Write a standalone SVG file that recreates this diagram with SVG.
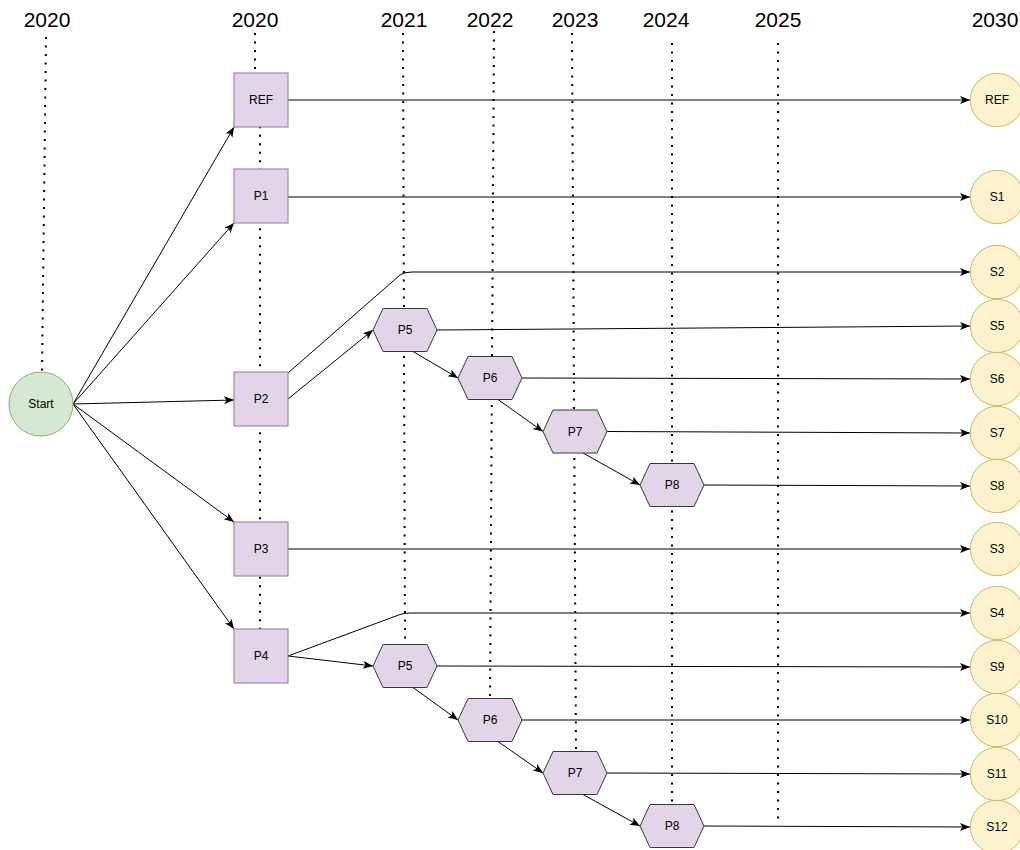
<svg xmlns="http://www.w3.org/2000/svg" width="1020" height="850" viewBox="0 0 1020 850">
  <defs>
    <marker id="arrow" markerUnits="userSpaceOnUse" markerWidth="12" markerHeight="10" refX="10" refY="4" orient="auto">
      <path d="M0,0 L10,4 L0,8 L2.5,4 Z" fill="#000"/>
    </marker>
    <polygon id="hex" points="-32,0 -22,-21.5 22,-21.5 32,0 22,21.5 -22,21.5"/>
  </defs>
  <style>
    .year { font-family: "Liberation Sans", Arial, sans-serif; font-size: 21px; fill: #000; text-anchor: middle; }
    .lbl { font-family: "Liberation Sans", Arial, sans-serif; font-size: 12px; fill: #000; text-anchor: middle; dominant-baseline: central; }
    .grid { fill: none; stroke: #000; stroke-width: 2; stroke-dasharray: 2 6.5; }
    .edge { fill: none; stroke: #000; stroke-width: 1; marker-end: url(#arrow); }
    .box { fill: #e1d5e7; stroke: #9673a6; stroke-width: 1; }
    .hexagon { fill: #e1d5e7; stroke: #36393d; stroke-width: 1; }
    .start { fill: #d5e8d4; stroke: #82b366; stroke-width: 1; }
    .end { fill: #fff2cc; stroke: #d6b656; stroke-width: 1; }
  </style>
  <rect width="1020" height="850" fill="#fff"/>

  <!-- year headings -->
  <g id="years">
    <text class="year" x="47" y="27">2020</text>
    <text class="year" x="255" y="27">2020</text>
    <text class="year" x="404" y="27">2021</text>
    <text class="year" x="490" y="27">2022</text>
    <text class="year" x="575" y="27">2023</text>
    <text class="year" x="666" y="27">2024</text>
    <text class="year" x="778" y="27">2025</text>
    <text class="year" x="995" y="27">2030</text>
  </g>

  <!-- dotted time guides -->
  <g id="guides">
    <path class="grid" d="M46,37 L42,372"/>
    <path class="grid" d="M255,33 L255,76 L260,124 L260,629"/>
    <path class="grid" d="M403,33 L405,644"/>
    <path class="grid" d="M494,31 L490,698"/>
    <path class="grid" d="M572,33 L576,752"/>
    <path class="grid" d="M672,43 L672,805"/>
    <path class="grid" d="M778,43 L778,822"/>
  </g>

  <!-- connectors -->
  <g id="connectors">
    <path class="edge" d="M73,404 L234,127"/>
    <path class="edge" d="M73,404 L234,223"/>
    <path class="edge" d="M73,404 L234,400"/>
    <path class="edge" d="M73,404 L234,522"/>
    <path class="edge" d="M73,404 L234,629"/>

    <path class="edge" d="M288,100 L970,100"/>
    <path class="edge" d="M288,197 L970,197"/>
    <path class="edge" d="M288,373 L400,275 Q404,272 412,272 L970,272"/>
    <path class="edge" d="M288,399 L373,330"/>
    <path class="edge" d="M288,549 L970,549"/>
    <path class="edge" d="M288,656 L400,614.5 Q404,613 411,613 L970,613"/>
    <path class="edge" d="M288,656 L373,666"/>

    <path class="edge" d="M437,330 L970,326"/>
    <path class="edge" d="M413,351.5 L458,378"/>
    <path class="edge" d="M522,378 L970,379"/>
    <path class="edge" d="M498,399.5 L543,431.5"/>
    <path class="edge" d="M607,431.5 L970,433"/>
    <path class="edge" d="M583,453 L640,485"/>
    <path class="edge" d="M704,485 L970,486"/>

    <path class="edge" d="M437,666 L970,667"/>
    <path class="edge" d="M413,687.5 L458,720"/>
    <path class="edge" d="M522,720 L970,720"/>
    <path class="edge" d="M498,741.5 L543,773"/>
    <path class="edge" d="M607,773 L970,774"/>
    <path class="edge" d="M583,794.5 L640,826"/>
    <path class="edge" d="M704,826 L970,827"/>
  </g>

  <!-- start -->
  <g id="node-start">
    <circle class="start" cx="41" cy="404" r="32"/>
    <text class="lbl" x="41" y="404">Start</text>
  </g>

  <!-- 2020 packages -->
  <g id="node-ref">
    <rect class="box" x="234" y="73" width="54" height="54"/>
    <text class="lbl" x="261" y="100">REF</text>
  </g>
  <g id="node-p1">
    <rect class="box" x="234" y="169" width="54" height="54"/>
    <text class="lbl" x="261" y="196">P1</text>
  </g>
  <g id="node-p2">
    <rect class="box" x="234" y="372" width="54" height="54"/>
    <text class="lbl" x="261" y="399">P2</text>
  </g>
  <g id="node-p3">
    <rect class="box" x="234" y="522" width="54" height="54"/>
    <text class="lbl" x="261" y="549">P3</text>
  </g>
  <g id="node-p4">
    <rect class="box" x="234" y="629" width="54" height="54"/>
    <text class="lbl" x="261" y="656">P4</text>
  </g>

  <!-- follow-up packages, upper branch -->
  <g id="node-p5a" transform="translate(405,330)">
    <use href="#hex" class="hexagon"/>
    <text class="lbl" x="0" y="0">P5</text>
  </g>
  <g id="node-p6a" transform="translate(490,378)">
    <use href="#hex" class="hexagon"/>
    <text class="lbl" x="0" y="0">P6</text>
  </g>
  <g id="node-p7a" transform="translate(575,431.5)">
    <use href="#hex" class="hexagon"/>
    <text class="lbl" x="0" y="0">P7</text>
  </g>
  <g id="node-p8a" transform="translate(672,485)">
    <use href="#hex" class="hexagon"/>
    <text class="lbl" x="0" y="0">P8</text>
  </g>

  <!-- follow-up packages, lower branch -->
  <g id="node-p5b" transform="translate(405,666)">
    <use href="#hex" class="hexagon"/>
    <text class="lbl" x="0" y="0">P5</text>
  </g>
  <g id="node-p6b" transform="translate(490,720)">
    <use href="#hex" class="hexagon"/>
    <text class="lbl" x="0" y="0">P6</text>
  </g>
  <g id="node-p7b" transform="translate(575,773)">
    <use href="#hex" class="hexagon"/>
    <text class="lbl" x="0" y="0">P7</text>
  </g>
  <g id="node-p8b" transform="translate(672,826)">
    <use href="#hex" class="hexagon"/>
    <text class="lbl" x="0" y="0">P8</text>
  </g>

  <!-- 2030 scenarios -->
  <g id="node-end-ref"><circle class="end" cx="997" cy="100" r="26.7"/><text class="lbl" x="997" y="100">REF</text></g>
  <g id="node-s1"><circle class="end" cx="997" cy="197" r="26.7"/><text class="lbl" x="997" y="197">S1</text></g>
  <g id="node-s2"><circle class="end" cx="997" cy="272" r="26.7"/><text class="lbl" x="997" y="272">S2</text></g>
  <g id="node-s5"><circle class="end" cx="997" cy="326" r="26.7"/><text class="lbl" x="997" y="326">S5</text></g>
  <g id="node-s6"><circle class="end" cx="997" cy="379" r="26.7"/><text class="lbl" x="997" y="379">S6</text></g>
  <g id="node-s7"><circle class="end" cx="997" cy="433" r="26.7"/><text class="lbl" x="997" y="433">S7</text></g>
  <g id="node-s8"><circle class="end" cx="997" cy="486" r="26.7"/><text class="lbl" x="997" y="486">S8</text></g>
  <g id="node-s3"><circle class="end" cx="997" cy="549" r="26.7"/><text class="lbl" x="997" y="549">S3</text></g>
  <g id="node-s4"><circle class="end" cx="997" cy="613" r="26.7"/><text class="lbl" x="997" y="613">S4</text></g>
  <g id="node-s9"><circle class="end" cx="997" cy="667" r="26.7"/><text class="lbl" x="997" y="667">S9</text></g>
  <g id="node-s10"><circle class="end" cx="997" cy="720" r="26.7"/><text class="lbl" x="997" y="720">S10</text></g>
  <g id="node-s11"><circle class="end" cx="997" cy="774" r="26.7"/><text class="lbl" x="997" y="774">S11</text></g>
  <g id="node-s12"><circle class="end" cx="997" cy="827" r="26.7"/><text class="lbl" x="997" y="827">S12</text></g>
</svg>
